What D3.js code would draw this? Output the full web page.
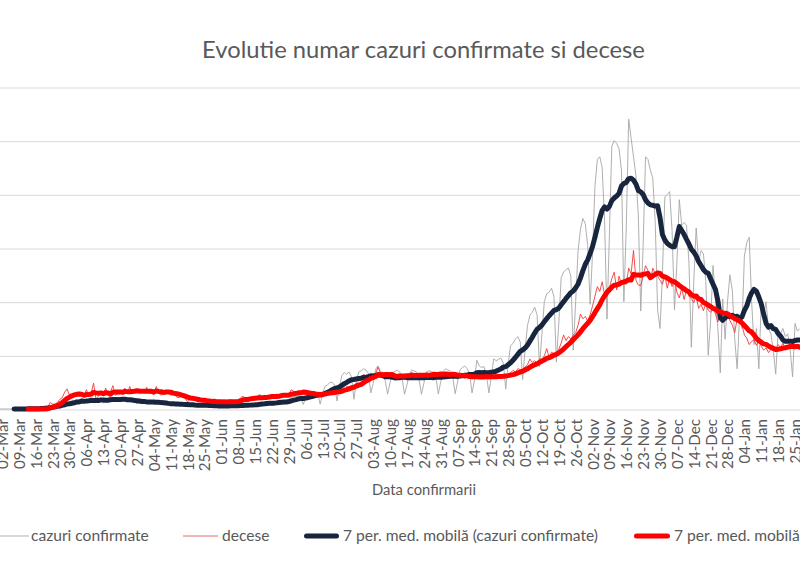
<!DOCTYPE html>
<html><head><meta charset="utf-8">
<script src="https://cdn.jsdelivr.net/npm/d3@7"></script>
<style>html,body{margin:0;padding:0;background:#fff;overflow:hidden}</style>
</head><body><svg id="c" width="800" height="585" xmlns="http://www.w3.org/2000/svg"></svg>
<script>
// ---------------- data ----------------
const title = "Evolutie numar cazuri confirmate si decese";
const xTitle = "Data confirmarii";
const seriesNames = ["cazuri confirmate", "decese", "7 per. med. mobilă (cazuri confirmate)", "7 per. med. mobilă (decese)"];
const casesStart = "2020-03-01";
const deathsStart = "2020-03-07";
const tickFirst = "2020-03-02";
const tickLast = "2021-01-25";
const casesMax = 12000;
const deathsMax = 400;
const gridCount = 6;
const maWindow = 7;

// daily confirmed cases (from 01-Mar-2020)
const cases = [
  0,
  0, 0, 1, 1, 0, 3, 2,
  2, 4, 10, 3, 21, 12, 15,
  8, 26, 32, 51, 59, 59, 66,
  143, 186, 144, 123, 263, 178, 274,
  217, 308, 254, 337, 277, 395, 243,
  252, 360, 405, 271, 318, 373, 400,
  224, 294, 399, 432, 342, 386, 370,
  264, 344, 384, 329, 333, 298, 290,
  190, 250, 260, 320, 249, 289, 262,
  179, 191, 280, 220, 200, 246, 154,
  110, 190, 195, 200, 176, 190, 129,
  78, 140, 167, 145, 152, 164, 134,
  98, 112, 119, 129, 122, 130, 95,
  70, 119, 124, 138, 141, 144, 104,
  98, 159, 146, 170, 168, 166, 143,
  128, 214, 226, 247, 222, 248, 185,
  169, 234, 291, 321, 301, 318, 186,
  300, 420, 460, 470, 480, 430, 170,
  420, 560, 620, 650, 630, 580, 180,
  560, 840, 900, 980, 1000, 880, 300,
  850, 1250, 1360, 1300, 1380, 1200, 360,
  1000, 1380, 1420, 1500, 1450, 1330, 600,
  950, 1480, 1610, 1400, 1350, 1050, 560,
  980, 1350, 1400, 1450, 1380, 1150, 550,
  900, 1300, 1450, 1420, 1380, 1120, 550,
  950, 1380, 1420, 1400, 1350, 1200, 560,
  1000, 1400, 1500, 1450, 1420, 1200, 570,
  1000, 1450, 1550, 1600, 1500, 1330, 600,
  1050, 1820, 1600, 1550, 1580, 1250, 600,
  1200, 1870, 1800, 1850, 1900, 1700, 740,
  1700, 2350, 2450, 2600, 2700, 2500, 1100,
  2200, 3100, 3500, 3600, 3800, 3500, 1580,
  2800, 4000, 4300, 4350, 4500, 4200, 1750,
  3200, 4900, 5100, 5200, 5250, 4950, 2200,
  4000, 5900, 6700, 7100, 6900, 6100, 3900,
  5800, 8300, 9300, 9400, 9000, 7000, 3350,
  6500, 9800, 10000, 9900, 9700, 8900, 4000,
  6800, 10800, 10100, 9400, 8700, 7200, 3650,
  6100, 9400, 9300, 8900, 8600, 7000, 3700,
  3000, 5000, 7900, 8000, 8100, 6650, 3700,
  5450, 7800, 6850, 6950, 6840, 5460, 2300,
  4750, 6750, 5450, 5900, 5790, 4760, 2000,
  3300, 5350, 4050, 3000, 1350, 4100, 2600,
  4000, 5000, 4400, 2600, 1500, 3500, 3000,
  5700, 6200, 6400, 4000, 2400, 3000, 1500,
  3950, 3500, 4000, 3000, 2800, 2200, 1300,
  2900, 2800, 3000, 2700, 2800, 2200, 1200,
  3190, 2900, 3000
];

// daily deaths (from 07-Mar-2020)
const deaths = [
  0, 0,
  0, 0, 0, 0, 0, 0, 0,
  0, 0, 0, 0, 0, 2, 8,
  6, 6, 8, 12, 14, 21, 25,
  17, 18, 15, 18, 16, 19, 16,
  24, 17, 20, 32, 12, 16, 19,
  17, 26, 18, 21, 29, 17, 19,
  19, 22, 26, 19, 28, 19, 21,
  24, 19, 24, 20, 27, 20, 20,
  18, 28, 20, 17, 21, 23, 20,
  17, 20, 16, 14, 15, 17, 13,
  9, 12, 13, 11, 10, 12, 10,
  9, 8, 10, 7, 11, 9, 9,
  8, 10, 7, 9, 12, 8, 9,
  11, 14, 16, 13, 12, 13, 12,
  13, 16, 18, 14, 15, 13, 16,
  17, 15, 19, 16, 20, 17, 15,
  18, 24, 22, 20, 23, 19, 21,
  17, 20, 16, 19, 18, 17, 19,
  19, 22, 20, 23, 21, 20, 22,
  22, 26, 30, 28, 27, 29, 27,
  32, 35, 36, 43, 41, 39, 40,
  40, 44, 52, 45, 38, 41, 41,
  38, 44, 40, 43, 39, 42, 41,
  41, 44, 45, 40, 39, 43, 42,
  40, 45, 44, 42, 46, 41, 43,
  44, 42, 46, 40, 43, 45, 41,
  37, 42, 44, 38, 41, 39, 39,
  38, 41, 43, 39, 40, 42, 37,
  39, 40, 44, 41, 40, 43, 40,
  42, 45, 48, 46, 50, 49, 49,
  52, 55, 62, 58, 60, 57, 62,
  62, 66, 75, 64, 71, 68, 70,
  74, 82, 92, 85, 90, 87, 92,
  95, 104, 118, 112, 115, 109, 117,
  128, 140, 152, 146, 158, 142, 149,
  150, 162, 170, 148, 165, 155, 156,
  155, 175, 168, 197, 160, 154, 153,
  165, 178, 172, 160, 175, 168, 165,
  160, 155, 166, 150, 162, 152, 161,
  145, 138, 150, 136, 148, 140, 137,
  132, 140, 125, 130, 122, 131, 123,
  120, 125, 118, 108, 122, 119, 121,
  115, 110, 104, 95, 112, 108, 105,
  92, 88, 80, 84, 86, 79, 86,
  78, 73, 76, 70, 74, 72, 75,
  80, 76, 82, 74, 79, 77, 78,
  76, 79, 75
];

// ---------------- chart ----------------
const W = 800, H = 585;
const svg = d3.select("#c");
svg.append("rect").attr("width", W).attr("height", H).attr("fill", "#fff");
const FONT = "Lato, Carlito, Calibri, 'Open Sans', sans-serif";
const TXT = "#595959";

const parse = d3.utcParse("%Y-%m-%d");
const t0 = parse(tickFirst), t1 = parse(tickLast);
const x = d3.scaleUtc().domain([t0, t1]).range([2, 795]);
const yC = d3.scaleLinear().domain([0, casesMax]).range([409, 87]);
const yD = d3.scaleLinear().domain([0, deathsMax]).range([409, 87]);

function toSeries(arr, start) {
  const s = parse(start);
  return arr.map((v, i) => ({ date: d3.utcDay.offset(s, i), v }));
}
function movingAvg(series) {
  const out = [];
  for (let i = maWindow - 1; i < series.length; i++) {
    out.push({ date: series[i].date, v: d3.mean(series.slice(i - maWindow + 1, i + 1), d => d.v) });
  }
  return out;
}
const cS = toSeries(cases, casesStart);
const dS = toSeries(deaths, deathsStart);
const cMA = movingAvg(cS);
const dMA = movingAvg(dS);

// gridlines
const grid = svg.append("g").attr("transform", "translate(0,0.5)")
  .call(d3.axisLeft(yC).ticks(gridCount).tickValues(d3.range(0, casesMax + 1, casesMax / gridCount)).tickSize(-W).tickFormat(""));
grid.select(".domain").remove();
grid.selectAll("line").attr("stroke", "#d9d9d9").attr("stroke-width", 1);

// x axis labels
const weeks = d3.utcWeek.every(1); 
const tickVals = d3.utcMonday.range(t0, d3.utcDay.offset(t1, 1));
const fmt = d3.utcFormat("%d-%b");
const xa = svg.append("g").attr("transform", "translate(0,409)")
  .call(d3.axisBottom(x).tickValues(tickVals).tickFormat(fmt).tickSize(0));
xa.select(".domain").remove();
xa.selectAll("text")
  .attr("font-family", FONT).attr("font-size", 14).attr("fill", TXT)
  .attr("transform", "rotate(-90)")
  .attr("text-anchor", "end")
  .attr("x", -10).attr("y", 0).attr("dy", "0.36em");
// fit label size
{
  const nodes = xa.selectAll("text").nodes();
  const avg = d3.mean(nodes, n => n.getComputedTextLength());
  xa.selectAll("text").attr("font-size", 14 * 48 / avg);
}

function fitText(sel, width) {
  const fs = parseFloat(sel.attr("font-size"));
  const len = sel.node().getComputedTextLength();
  sel.attr("font-size", fs * width / len);
}

// lines
const line = (y) => d3.line().x(d => x(d.date)).y(d => y(d.v));
const plot = svg.append("g");
plot.append("path").datum(cS).attr("d", line(yC)).attr("fill", "none")
  .attr("stroke", "#a6a6a6").attr("stroke-width", 0.9);
plot.append("path").datum(dS).attr("d", line(yD)).attr("fill", "none")
  .attr("stroke", "#f23a3a").attr("stroke-width", 0.9);
plot.append("path").datum(cMA).attr("d", line(yC)).attr("fill", "none")
  .attr("stroke", "#17253f").attr("stroke-width", 5).attr("stroke-linejoin", "round").attr("stroke-linecap", "round");
plot.append("path").datum(dMA).attr("d", line(yD)).attr("fill", "none")
  .attr("stroke", "#ff0000").attr("stroke-width", 5).attr("stroke-linejoin", "round").attr("stroke-linecap", "round");

// title
const tt = svg.append("text").text(title).attr("x", 423.5).attr("y", 58)
  .attr("text-anchor", "middle").attr("font-family", FONT).attr("font-size", 22).attr("fill", TXT);
fitText(tt, 443);

// x title
const xt = svg.append("text").text(xTitle).attr("x", 424).attr("y", 495)
  .attr("text-anchor", "middle").attr("font-family", FONT).attr("font-size", 15).attr("fill", TXT);
fitText(xt, 104);

// legend
const legY = 536;
const leg = [
  { x1: 0, x2: 29, tx: 31, w: 114, color: "#a6a6a6", sw: 0.9 },
  { x1: 183, x2: 218, tx: 222, w: 45, color: "#e05a5a", sw: 0.9 },
  { x1: 304, x2: 339, tx: 343, w: 255, color: "#17253f", sw: 5 },
  { x1: 634, x2: 670, tx: 674, w: null, color: "#ff0000", sw: 5 }
];
const lg = svg.append("g");
let legFs = 15;
leg.forEach((L, i) => {
  lg.append("line").attr("x1", L.x1 + (L.sw > 2 ? 2.5 : 0)).attr("x2", L.x2 - (L.sw > 2 ? 2.5 : 0))
    .attr("y1", legY).attr("y2", legY)
    .attr("stroke", L.color).attr("stroke-width", L.sw).attr("stroke-linecap", L.sw > 2 ? "round" : "butt");
  const t = lg.append("text").text(seriesNames[i]).attr("x", L.tx).attr("y", legY).attr("dy", "0.35em")
    .attr("font-family", FONT).attr("font-size", legFs).attr("fill", TXT);
  if (i === 2) { fitText(t, L.w); legFs = parseFloat(t.attr("font-size")); }
});
lg.selectAll("text").attr("font-size", legFs);
</script>
</body></html>
